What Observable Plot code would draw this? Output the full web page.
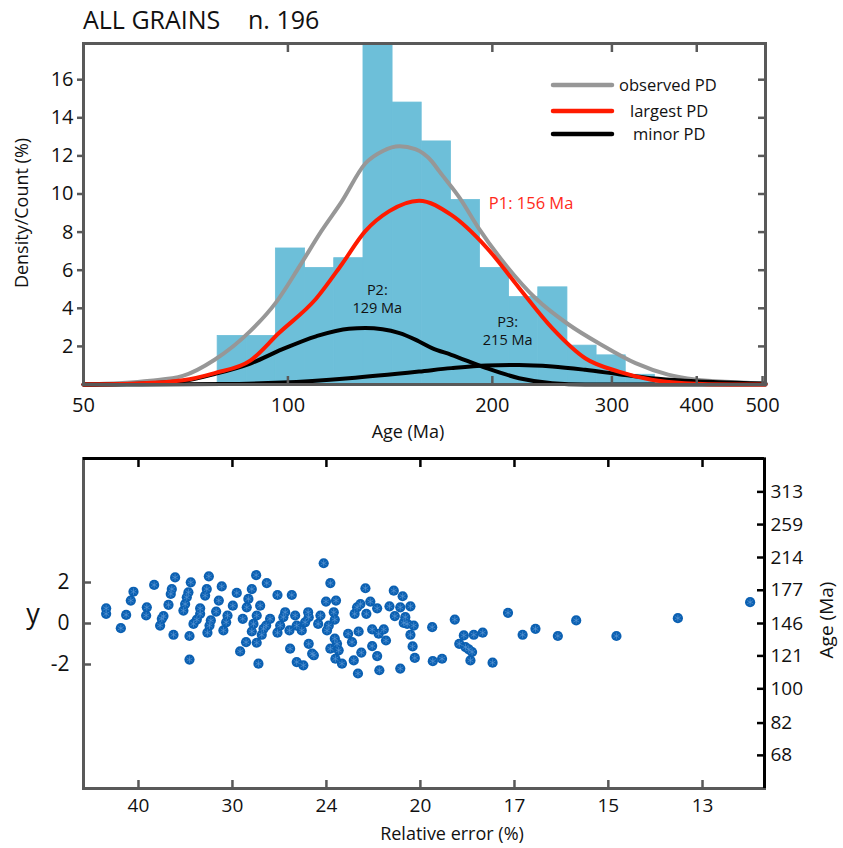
<!DOCTYPE html>
<html><head><meta charset="utf-8">
<script src="https://cdn.jsdelivr.net/npm/d3@7"></script>
<script src="https://cdn.jsdelivr.net/npm/@observablehq/plot@0.6"></script>
<style>
body{margin:0;background:#fff;font-family:"Open Sans",sans-serif;}
#wrap{position:relative;width:843px;height:848px;overflow:hidden;background:#fff;}
#wrap svg{position:absolute;left:0;}
.abs{position:absolute;white-space:nowrap;color:#111;line-height:1;}
.rot{transform:translate(-50%,-50%) rotate(-90deg);}
</style></head><body><div id="wrap"></div>
<script>
// ---------- DATA ----------
// histogram (bin edges in Ma, percentage of grains)
const binEdges = [78.8, 87.0, 96.0, 106.0, 117.0, 129.2, 142.6, 157.4, 173.8, 191.8, 211.7, 233.7, 258.0, 284.8, 314.4, 347.0];
const binPercent = [2.55, 2.55, 7.14, 6.12, 6.63, 18.4, 14.8, 12.76, 9.69, 6.12, 4.59, 5.1, 2.04, 1.53, 0.51];

// observed probability density
const observedAge = [50, 62.7, 70, 78, 88, 96, 104, 112, 120, 130, 138, 146, 154, 163, 167, 179, 191, 209, 232, 259, 289, 325, 363, 398, 455, 505];
const observedPD  = [0, 0.2, 0.45, 1.3, 2.8, 4.3, 6.2, 8.05, 9.6, 11.6, 12.26, 12.5, 12.35, 11.7, 11.2, 9.8, 8.2, 6.3, 4.5, 3.15, 2.1, 1.12, 0.52, 0.26, 0.12, 0.05];
// largest peak P1
const largestAge = [50, 60, 70, 78, 88, 97, 110, 120, 130, 141, 156, 174, 196, 219, 245, 274, 307, 343, 384, 450, 505];
const largestPD  = [0, 0.05, 0.22, 0.6, 1.25, 2.7, 4.5, 6.3, 8.05, 9.1, 9.65, 8.9, 7.2, 5.07, 2.96, 1.38, 0.68, 0.25, 0.07, 0, 0];
// minor peak P2
const p2Age = [50, 60, 70, 78, 88, 98, 110, 123, 130, 146, 156, 163, 174, 196, 219, 245, 274, 505];
const p2PD  = [0, 0.04, 0.18, 0.55, 1.1, 1.84, 2.53, 2.93, 2.96, 2.7, 2.26, 1.91, 1.56, 0.86, 0.33, 0.07, 0, 0];
// minor peak P3
const p3Age = [50, 80, 98, 123, 156, 174, 196, 219, 245, 274, 307, 343, 384, 430, 505];
const p3PD  = [0, 0.02, 0.1, 0.33, 0.68, 0.86, 1.0, 1.03, 0.95, 0.77, 0.54, 0.33, 0.2, 0.12, 0.05];

// peak annotations (age, density position of the text)
const p1Label = [{text: "P1: 156 Ma", age: 197.6, v: 9.5}];
const minorLabels = [
  {text: "P2:", age: 135.4, v: 4.93},
  {text: "129 Ma", age: 135.4, v: 3.99},
  {text: "P3:", age: 210.7, v: 3.25},
  {text: "215 Ma", age: 210.7, v: 2.31}
];

const ageTicksTop = [50, 100, 200, 300, 400, 500];
const densityTicks = [2, 4, 6, 8, 10, 12, 14, 16];

// radial plot: [relative error (%), standardised estimate y]
const grains = [
 [45.18,0.74],[45.18,0.47],[42.67,-0.23],[41.83,0.42],[41.12,1.12],[40.72,1.55],[38.85,0.79],[38.94,0.39],[37.89,1.88],[37.15,-0.10],
 [36.94,0.23],[36.74,0.36],[36.15,0.91],[35.89,1.44],[35.77,1.68],[35.40,2.25],[35.58,-0.55],[34.50,0.63],[34.32,0.95],[34.15,1.28],
 [33.98,1.52],[33.74,2.01],[33.87,-0.61],[33.87,-1.76],[33.47,-0.02],[33.14,0.19],[32.82,0.74],[32.82,0.47],[32.35,1.36],[32.20,1.68],
 [32.01,2.30],[32.14,-0.45],[31.95,-0.10],[31.83,0.15],[31.36,0.58],[31.13,1.12],[30.88,1.81],[30.74,-0.34],[30.51,0.06],[30.40,0.39],
 [29.97,0.87],[29.66,1.49],[29.40,-1.36],[29.20,0.23],[28.95,-0.91],[28.90,0.79],[28.78,1.20],[28.53,1.68],[28.53,-0.39],[28.41,-0.02],
 [28.22,2.36],[28.18,0.39],[28.06,-1.96],[28.18,-0.94],[27.94,0.87],[27.83,-0.55],[27.71,-0.26],[27.49,1.97],[27.53,-0.10],[27.27,0.23],
 [26.79,1.39],[26.79,-0.45],[26.62,-0.10],[26.42,0.31],[26.31,0.55],[26.01,-1.23],[26.05,-0.34],[25.91,1.39],[25.71,0.39],[25.62,-0.10],
 [25.62,-1.88],[25.24,-2.04],[25.33,-0.34],[25.14,0.06],
 [24.97,0.55],[24.94,0.31],[24.94,-0.99],[24.75,-1.47],[24.66,-1.55],[24.43,-0.02],[24.31,0.39],[24.14,2.94],[24.02,1.07],[23.97,-0.34],
 [23.88,-0.10],[23.80,1.97],[23.80,-1.23],[23.63,0.55],[23.58,0.19],[23.58,-0.74],[23.52,1.12],[23.55,-1.72],[23.47,-0.99],[23.39,-1.31],
 [23.23,-1.96],[22.94,-0.50],[22.76,-0.91],[22.68,-1.80],[22.64,0.47],[22.53,0.79],[22.46,-0.39],[22.38,0.95],[22.49,-2.44],[22.34,-1.42],
 [22.16,1.72],[22.12,0.47],[21.95,1.07],[21.87,-0.29],[21.87,-1.10],[21.66,-1.59],[21.66,0.74],[21.57,-2.28],[21.60,-0.50],[21.39,-0.29],
 [21.30,-0.83],[21.16,0.84],[20.99,1.60],[20.95,0.36],[20.74,-2.20],[20.74,0.79],[20.65,1.33],[20.61,0.03],[20.55,0.31],[20.48,-0.02],
 [20.36,0.84],[20.28,-1.12],[20.36,-0.55],[20.24,-0.10],[20.20,-1.68],[19.59,-0.18],[19.57,-1.84],[19.26,-1.72],[18.85,0.19],[18.71,-0.99],
 [18.57,-0.58],[18.52,-1.15],[18.42,-1.26],[18.37,-1.80],[18.32,-1.39],[18.27,-0.55],[18.01,-0.45],[17.73,-1.91],[17.31,0.52],[16.93,-0.55],
 [16.61,-0.26],[16.08,-0.61],[15.67,0.15],[14.84,-0.61],[13.73,0.26],[12.62,1.04]
];
const relErrTicks = [40, 30, 24, 20, 17.14, 15, 13.33];
const yTicks = [-2, 0, 2];
const ageTickLabels = [68, 82, 100, 121, 146, 177, 214, 259, 313];
const centralAge = 146;

// ---------- BUILD ----------
const FONT = "'Open Sans', sans-serif";
const GRAY = "#595959";
const HIST = "#6dbfd9";
const wrap = document.getElementById("wrap");

const bins = binPercent.map((h, i) => ({x1: binEdges[i], x2: binEdges[i + 1], h}));
const toRows = (ages, vals) => ages.map((a, i) => ({age: a, v: vals[i]}));
const yMaxTop = 17.9;

const topPlot = Plot.plot({
  width: 843, height: 445,
  marginLeft: 83, marginRight: 78, marginTop: 43, marginBottom: 61,
  style: {fontFamily: FONT, background: "transparent", overflow: "visible", color: "#111"},
  x: {type: "log", domain: [50, 505], label: null},
  y: {domain: [0, yMaxTop], label: null},
  marks: [
    Plot.rect(bins, {x1: "x1", x2: "x2", y1: 0, y2: d => Math.min(d.h, yMaxTop), fill: HIST, stroke: HIST, strokeWidth: 0.8}),
    Plot.line(toRows(observedAge, observedPD), {x: "age", y: "v", stroke: "#979797", strokeWidth: 4, curve: "monotone-x"}),
    Plot.line(toRows(p3Age, p3PD), {x: "age", y: "v", stroke: "#000", strokeWidth: 4, curve: "monotone-x"}),
    Plot.line(toRows(p2Age, p2PD), {x: "age", y: "v", stroke: "#000", strokeWidth: 4, curve: "monotone-x"}),
    Plot.line(toRows(largestAge, largestPD), {x: "age", y: "v", stroke: "#ff1a00", strokeWidth: 4, curve: "monotone-x"}),
    Plot.text(p1Label, {x: "age", y: "v", text: "text", fill: "#ff2a1a", textAnchor: "start", fontSize: 16.5}),
    Plot.text(minorLabels, {x: "age", y: "v", text: "text", fill: "#111", textAnchor: "middle", fontSize: 14.5}),
    Plot.axisX(ageTicksTop, {anchor: "bottom", tickSize: -8, tickFormat: () => "", stroke: GRAY, strokeWidth: 2.5, label: null}),
    Plot.axisX(ageTicksTop, {anchor: "bottom", tickSize: 0, tickPadding: 13, fontSize: 20, tickFormat: d => String(d), label: null}),
    Plot.axisX([100, 200, 300, 400], {anchor: "top", tickSize: -8, tickFormat: () => "", stroke: GRAY, strokeWidth: 2.5, label: null}),
    Plot.axisY(densityTicks, {anchor: "left", tickSize: 6, tickPadding: 4, fontSize: 20, stroke: GRAY, strokeWidth: 2.5, label: null}),
    Plot.axisY(densityTicks, {anchor: "right", tickSize: -8, tickFormat: () => "", stroke: GRAY, strokeWidth: 2.5, label: null}),
    Plot.frame({stroke: GRAY, strokeWidth: 3})
  ]
});
topPlot.style.top = "0px";
wrap.appendChild(topPlot);

const yMaxBot = 8.05;
const ageToY = a => Math.log(a / centralAge) * 8.42;
const botPlot = Plot.plot({
  width: 843, height: 403,
  marginLeft: 83, marginRight: 79, marginTop: 13, marginBottom: 60,
  style: {fontFamily: FONT, background: "transparent", overflow: "visible", color: "#111"},
  x: {domain: [1 / 49.69, 1 / 12.42], label: null},
  y: {domain: [-yMaxBot, yMaxBot], label: null},
  marks: [
    Plot.dot(grains, {x: d => 1 / d[0], y: d => d[1], r: 5.1, fill: "#0b60b2", stroke: "none"}),
    Plot.dot(grains, {x: d => 1 / d[0], y: d => d[1], r: 3.2, symbol: "asterisk", stroke: "#5f9bd6", strokeWidth: 0.6}),
    Plot.axisX(relErrTicks.map(r => 1 / r), {anchor: "bottom", tickSize: -8, tickFormat: () => "", stroke: GRAY, strokeWidth: 2.5, label: null}),
    Plot.axisX(relErrTicks.map(r => 1 / r), {anchor: "bottom", tickSize: 0, tickPadding: 10, fontSize: 19, tickFormat: p => String(Math.round(1 / p)), label: null}),
    Plot.axisX(relErrTicks.map(r => 1 / r), {anchor: "top", tickSize: -8, tickFormat: () => "", stroke: "#000", strokeWidth: 2.5, label: null}),
    Plot.axisY(yTicks, {anchor: "left", tickSize: -8, tickFormat: () => "", stroke: GRAY, strokeWidth: 2.5, label: null}),
    Plot.axisY(yTicks, {anchor: "left", tickSize: 0, tickPadding: 14, fontSize: 21, tickFormat: d => String(d), label: null}),
    Plot.axisY(ageTickLabels.map(ageToY), {anchor: "right", tickSize: -8, tickFormat: () => "", stroke: "#000", strokeWidth: 2.5, label: null}),
    Plot.axisY(ageTickLabels.map(ageToY), {anchor: "right", tickSize: 0, tickPadding: 6, fontSize: 19, tickFormat: (d, i) => String(ageTickLabels[i]), label: null}),
    Plot.frame({stroke: GRAY, strokeWidth: 3}),
    Plot.ruleY([yMaxBot], {stroke: "#000", strokeWidth: 3}),
    Plot.ruleX([1 / 12.42], {stroke: "#000", strokeWidth: 3})
  ]
});
botPlot.style.top = "445px";
wrap.appendChild(botPlot);

// ---------- TEXT / LEGEND ----------
function addText(txt, x, y, size, extra = "", cls = "abs") {
  const d = document.createElement("div");
  d.className = cls;
  d.textContent = txt;
  d.style.cssText += `left:${x}px;top:${y}px;font-size:${size}px;${extra}`;
  wrap.appendChild(d);
  return d;
}
addText("ALL GRAINS", 83, 7, 25);
addText("n. 196", 248, 7, 25);
addText("Density/Count (%)", 21, 213, 18, "", "abs rot");
addText("Age (Ma)", 408, 431, 18, "transform:translate(-50%,-50%);");
addText("Relative error (%)", 452, 833, 18, "transform:translate(-50%,-50%);");
addText("y", 33, 612, 27, "transform:translate(-50%,-50%);");
addText("Age (Ma)", 826, 620, 19, "", "abs rot");

const legendItems = [
  {label: "observed PD", color: "#979797", tx: 619, y: 85},
  {label: "largest PD", color: "#ff1a00", tx: 630, y: 111},
  {label: "minor PD", color: "#000", tx: 633, y: 134}
];
const ns = "http://www.w3.org/2000/svg";
const lg = document.createElementNS(ns, "svg");
lg.setAttribute("width", 843); lg.setAttribute("height", 160);
lg.style.cssText = "position:absolute;left:0;top:0;pointer-events:none;";
for (const it of legendItems) {
  const l = document.createElementNS(ns, "line");
  l.setAttribute("x1", 553); l.setAttribute("x2", 612);
  l.setAttribute("y1", it.y); l.setAttribute("y2", it.y);
  l.setAttribute("stroke", it.color); l.setAttribute("stroke-width", 4.5);
  l.setAttribute("stroke-linecap", "round");
  lg.appendChild(l);
  const t = document.createElementNS(ns, "text");
  t.setAttribute("x", it.tx); t.setAttribute("y", it.y);
  t.setAttribute("dy", "0.35em");
  t.setAttribute("font-family", "Open Sans, sans-serif");
  t.setAttribute("font-size", 16.5);
  t.setAttribute("fill", "#111");
  t.textContent = it.label;
  lg.appendChild(t);
}
wrap.appendChild(lg);
</script></body></html>
